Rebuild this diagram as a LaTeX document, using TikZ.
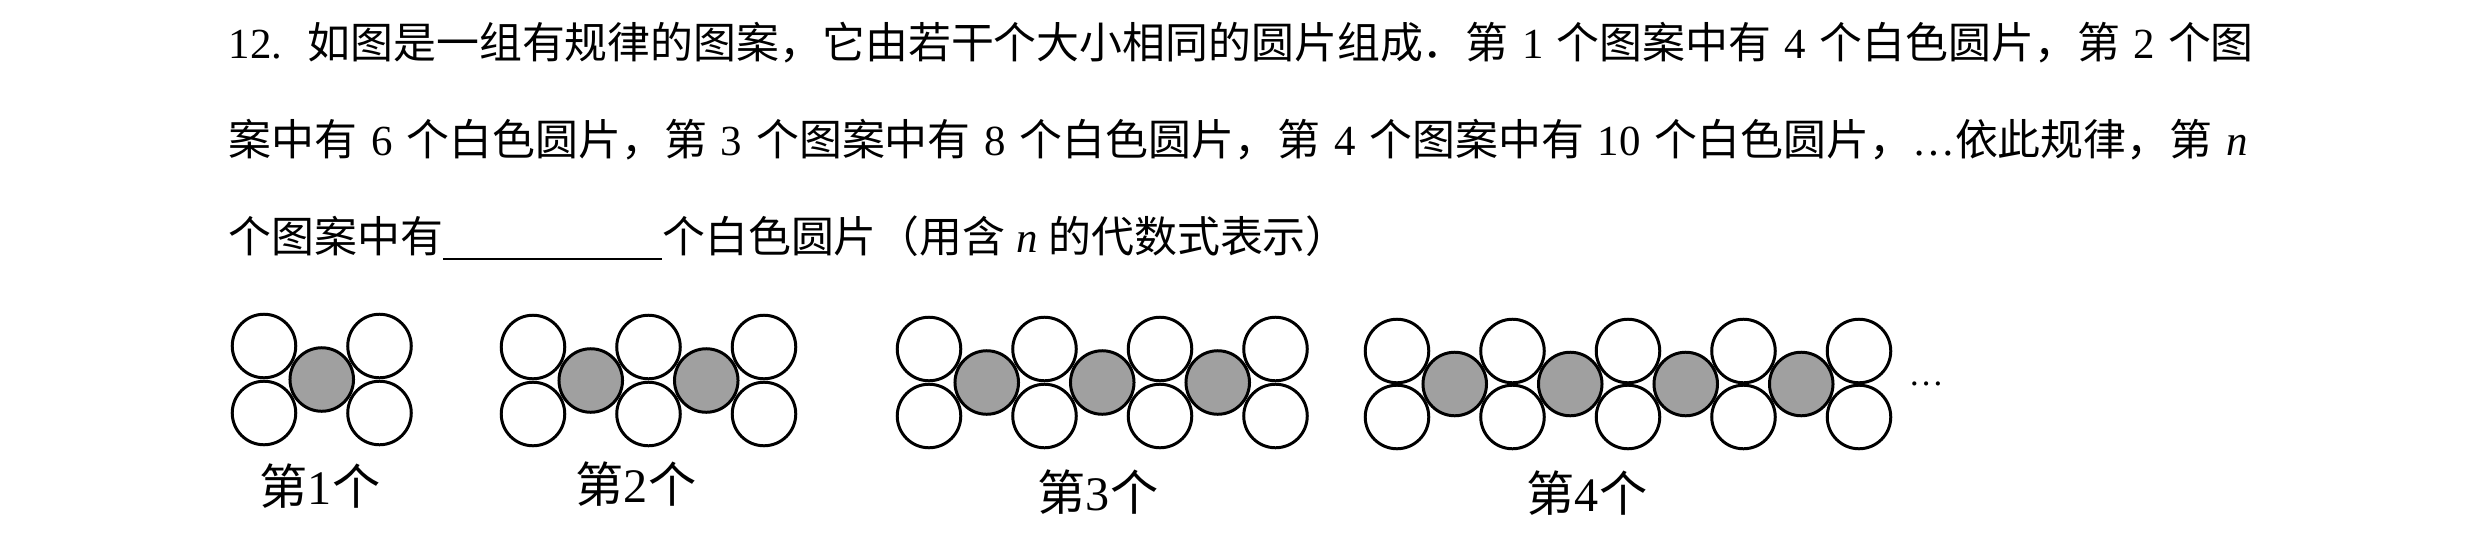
\documentclass[tikz,border=0pt]{standalone}
\usepackage{fontspec}
\setmainfont{Liberation Serif}
\newfontfamily\cjk{Noto Sans CJK SC}
\XeTeXlinebreaklocale "zh"
\XeTeXlinebreakskip=0pt plus 4pt
\newcommand\zh[1]{{\cjk #1}}
\definecolor{discgray}{RGB}{160,160,160}
\tikzset{
  disc/.style={circle, draw=black, line width=0.85pt, minimum size=0.635cm, inner sep=0pt},
  whitedisc/.style={disc, fill=white},
  greydisc/.style={disc, fill=discgray},
  textline/.style={anchor=base west, inner sep=0pt, font=\fontsize{12.2pt}{14pt}\selectfont},
  caption/.style={anchor=base, inner sep=0pt, font=\fontsize{13.7pt}{16pt}\selectfont},
  dotsstyle/.style={anchor=base west, inner sep=0pt, font=\fontsize{10pt}{12pt}\selectfont},
}
\begin{document}
\begin{tikzpicture}[x=0.01cm, y=-0.01cm]
\useasboundingbox (0,0) rectangle (2480,536);
\node[textline] (line1) at (228,58) {\makebox[20.24cm][s]{12.\hspace{0.03cm} \zh{如图是一组有规律的图案，它由若干个大小相同的圆片组成．第} 1 \zh{个图案中有} 4 \zh{个白色圆片，第} 2 \zh{个图}}};
\node[textline] (line2) at (228,155) {\makebox[20.18cm][s]{\zh{案中有} 6 \zh{个白色圆片，第} 3 \zh{个图案中有} 8 \zh{个白色圆片，第} 4 \zh{个图案中有} 10 \zh{个白色圆片，}…\zh{依此规律，第} \textit{n}}};
\node[textline] (line3) at (228,252) {\zh{个图案中有}\rule[-0.08cm]{2.19cm}{0.5pt}\zh{个白色圆片（用含} \textit{n} \zh{的代数式表示）}};
\foreach \k/\x/\yt/\yb/\lx/\ly in {1/264/346/413/320/504, 2/533/347/414/636/502, 3/929/349/416/1098/510, 4/1397/351/417/1587/511}{
  \foreach \i in {0,...,\k}{
    \node[whitedisc] (w\k t\i) at ({\x+\i*115.5},\yt) {};
    \node[whitedisc] (w\k b\i) at ({\x+\i*115.5},\yb) {};
  }
  \foreach \i in {1,...,\k}{
    \node[greydisc] (g\k-\i) at ({\x+\i*115.5-57.75},{(\yt+\yb)/2}) {};
  }
  \node[caption] (cap\k) at (\lx,\ly) {\zh{第}\k\zh{个}};
}
\node[dotsstyle] (dots) at (1908,385) {…};
\end{tikzpicture}
\end{document}
